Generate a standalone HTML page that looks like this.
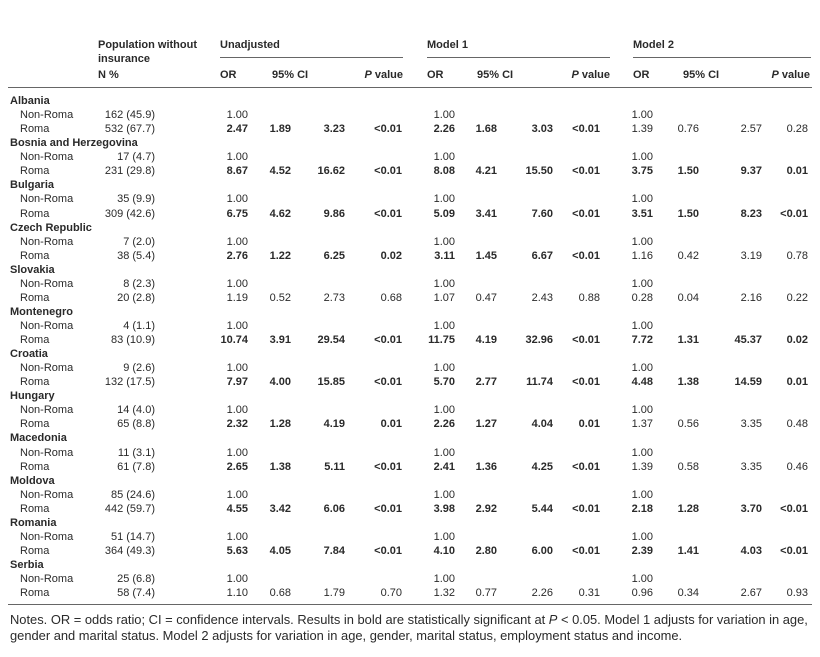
<!DOCTYPE html><html><head><meta charset="utf-8"><style>
body{margin:0;width:820px;height:657px;background:#fff;position:relative;overflow:hidden;font-family:"Liberation Sans",sans-serif;font-size:11px;color:#2a2a2a}
.t{position:absolute;white-space:nowrap;line-height:12px}
.r{text-align:right}
.b{font-weight:bold}
.l{position:absolute;background:#666}
</style></head><body>
<div class="t b" style="left:98px;top:39px">Population without</div>
<div class="t b" style="left:98px;top:53px">insurance</div>
<div class="t b" style="left:98px;top:69px">N %</div>
<div class="t b" style="left:220px;top:39px">Unadjusted</div>
<div class="t b" style="left:427px;top:39px">Model 1</div>
<div class="t b" style="left:633px;top:39px">Model 2</div>
<div class="l" style="left:220px;top:57px;width:183px;height:1px"></div>
<div class="l" style="left:427px;top:57px;width:183px;height:1px"></div>
<div class="l" style="left:633px;top:57px;width:178px;height:1px"></div>
<div class="l" style="left:8px;top:87px;width:804px;height:1px"></div>
<div class="l" style="left:8px;top:604px;width:804px;height:1px"></div>
<div class="t" style="left:10px;top:612px;font-size:12.9px;line-height:15.5px;width:810px;white-space:nowrap">Notes. OR = odds ratio; CI = confidence intervals. Results in bold are statistically significant at <i>P</i> &lt; 0.05. Model 1 adjusts for variation in age,<br>gender and marital status. Model 2 adjusts for variation in age, gender, marital status, employment status and income.</div>
<script>
var H=[["OR",220,0],["95% CI",272,0],["P value",403,1],["OR",427,0],["95% CI",477,0],["P value",610,1],["OR",633,0],["95% CI",683,0],["P value",810,1]];
var out="";
H.forEach(function(h){var txt=h[0]=="P value"?"<i>P</i> value":h[0];
 if(h[2])out+='<div class="t b r" style="right:'+(820-h[1])+'px;top:69px">'+txt+'</div>';
 else out+='<div class="t b" style="left:'+h[1]+'px;top:69px">'+txt+'</div>';});
var D=[["Albania","162 (45.9)","532 (67.7)",[1,"2.47 1.89 3.23 <0.01"],[1,"2.26 1.68 3.03 <0.01"],[0,"1.39 0.76 2.57 0.28"]],
["Bosnia and Herzegovina","17 (4.7)","231 (29.8)",[1,"8.67 4.52 16.62 <0.01"],[1,"8.08 4.21 15.50 <0.01"],[1,"3.75 1.50 9.37 0.01"]],
["Bulgaria","35 (9.9)","309 (42.6)",[1,"6.75 4.62 9.86 <0.01"],[1,"5.09 3.41 7.60 <0.01"],[1,"3.51 1.50 8.23 <0.01"]],
["Czech Republic","7 (2.0)","38 (5.4)",[1,"2.76 1.22 6.25 0.02"],[1,"3.11 1.45 6.67 <0.01"],[0,"1.16 0.42 3.19 0.78"]],
["Slovakia","8 (2.3)","20 (2.8)",[0,"1.19 0.52 2.73 0.68"],[0,"1.07 0.47 2.43 0.88"],[0,"0.28 0.04 2.16 0.22"]],
["Montenegro","4 (1.1)","83 (10.9)",[1,"10.74 3.91 29.54 <0.01"],[1,"11.75 4.19 32.96 <0.01"],[1,"7.72 1.31 45.37 0.02"]],
["Croatia","9 (2.6)","132 (17.5)",[1,"7.97 4.00 15.85 <0.01"],[1,"5.70 2.77 11.74 <0.01"],[1,"4.48 1.38 14.59 0.01"]],
["Hungary","14 (4.0)","65 (8.8)",[1,"2.32 1.28 4.19 0.01"],[1,"2.26 1.27 4.04 0.01"],[0,"1.37 0.56 3.35 0.48"]],
["Macedonia","11 (3.1)","61 (7.8)",[1,"2.65 1.38 5.11 <0.01"],[1,"2.41 1.36 4.25 <0.01"],[0,"1.39 0.58 3.35 0.46"]],
["Moldova","85 (24.6)","442 (59.7)",[1,"4.55 3.42 6.06 <0.01"],[1,"3.98 2.92 5.44 <0.01"],[1,"2.18 1.28 3.70 <0.01"]],
["Romania","51 (14.7)","364 (49.3)",[1,"5.63 4.05 7.84 <0.01"],[1,"4.10 2.80 6.00 <0.01"],[1,"2.39 1.41 4.03 <0.01"]],
["Serbia","25 (6.8)","58 (7.4)",[0,"1.10 0.68 1.79 0.70"],[0,"1.32 0.77 2.26 0.31"],[0,"0.96 0.34 2.67 0.93"]]];
var RX=[[248,291,345,402],[455,497,553,600],[653,699,762,808]];
function R(x,y,t,b){return '<div class="t r'+(b?' b':'')+'" style="right:'+(820-x)+'px;top:'+y+'px">'+t.replace("<","&lt;")+'</div>';}
D.forEach(function(d,i){var y=95+i*3*14.06;
 out+='<div class="t b" style="left:10px;top:'+y.toFixed(1)+'px">'+d[0]+'</div>';
 var y1=(y+14.06).toFixed(1),y2=(y+28.12).toFixed(1);
 out+='<div class="t" style="left:20px;top:'+y1+'px">Non-Roma</div><div class="t" style="left:20px;top:'+y2+'px">Roma</div>';
 out+=R(155,y1,d[1],0)+R(155,y2,d[2],0);
 for(var k=0;k<3;k++){var v=d[3+k][1].split(" "),b=d[3+k][0];
  out+=R(RX[k][0],y1,"1.00",0);
  for(var j=0;j<4;j++)out+=R(RX[k][j],y2,v[j],b);}
});
document.body.insertAdjacentHTML("beforeend",out);
</script>
</body></html>
